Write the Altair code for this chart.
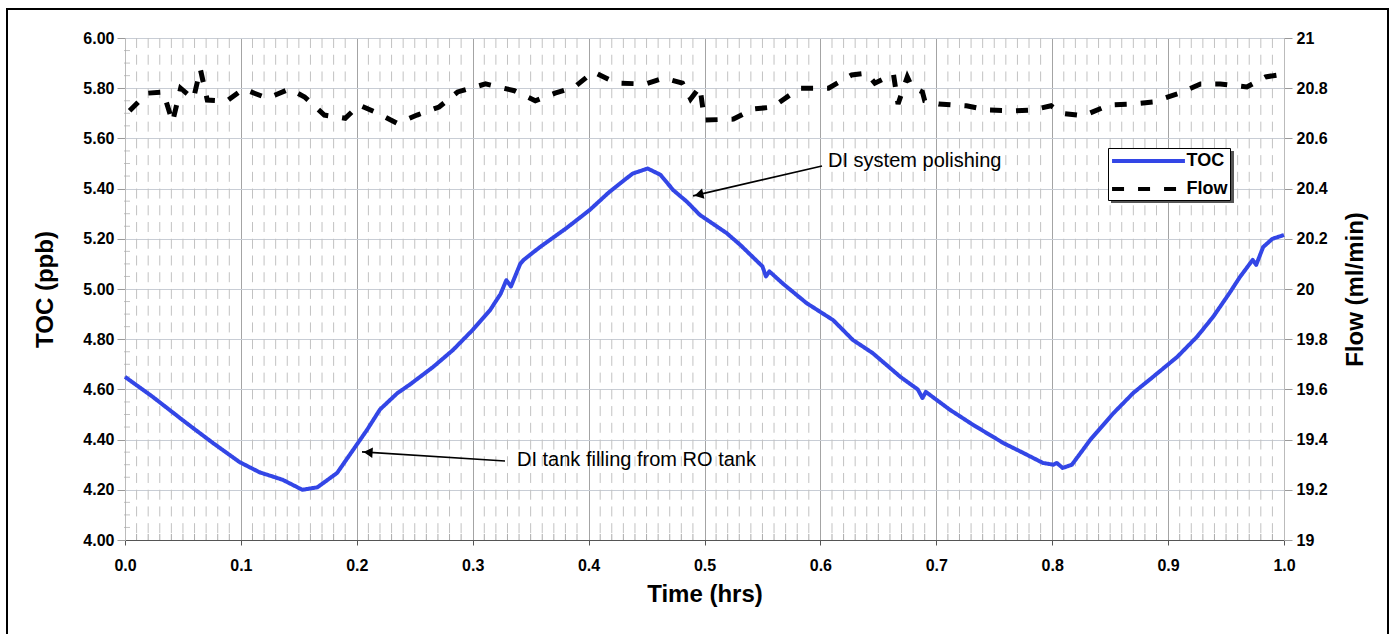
import altair as alt
import pandas as pd

FONT = "Liberation Sans"

# ---- data ----
toc_t = [0.000, 0.024, 0.053, 0.076, 0.099, 0.116, 0.136, 0.153, 0.166, 0.183,
         0.197, 0.209, 0.220, 0.235, 0.246, 0.266, 0.283, 0.300, 0.315, 0.324,
         0.329, 0.333, 0.341, 0.344, 0.358, 0.381, 0.401, 0.418, 0.438, 0.451,
         0.462, 0.473, 0.485, 0.496, 0.519, 0.531, 0.550, 0.553, 0.556, 0.568,
         0.588, 0.611, 0.628, 0.645, 0.669, 0.684, 0.688, 0.691, 0.712, 0.732,
         0.758, 0.775, 0.792, 0.801, 0.804, 0.809, 0.817, 0.833, 0.853, 0.870,
         0.887, 0.908, 0.925, 0.939, 0.953, 0.962, 0.973, 0.976, 0.982, 0.990,
         1.000]
toc_v = [4.65, 4.57, 4.466, 4.386, 4.31, 4.27, 4.24, 4.20, 4.21, 4.267,
         4.36, 4.44, 4.52, 4.585, 4.62, 4.69, 4.757, 4.837, 4.916, 4.98,
         5.035, 5.01, 5.10, 5.116, 5.167, 5.243, 5.315, 5.387, 5.46, 5.48,
         5.455, 5.394, 5.347, 5.295, 5.223, 5.175, 5.09, 5.05, 5.07, 5.02,
         4.944, 4.876, 4.797, 4.745, 4.65, 4.60, 4.566, 4.59, 4.518, 4.458,
         4.386, 4.347, 4.307, 4.30, 4.307, 4.287, 4.30, 4.40, 4.506, 4.586,
         4.65, 4.73, 4.81, 4.89, 4.984, 5.048, 5.116, 5.096, 5.167, 5.20,
         5.215]

flow_t = [0.004, 0.019, 0.033, 0.041, 0.048, 0.059, 0.065, 0.071, 0.088, 0.102,
          0.123, 0.142, 0.155, 0.172, 0.190, 0.202, 0.216, 0.235, 0.252, 0.271,
          0.287, 0.311, 0.336, 0.354, 0.371, 0.388, 0.404, 0.424, 0.449, 0.465,
          0.481, 0.488, 0.496, 0.500, 0.525, 0.542, 0.559, 0.582, 0.607, 0.627,
          0.640, 0.647, 0.663, 0.667, 0.675, 0.679, 0.688, 0.690, 0.702, 0.726,
          0.744, 0.768, 0.783, 0.799, 0.808, 0.827, 0.849, 0.869, 0.887, 0.908,
          0.928, 0.945, 0.968, 0.984, 0.998]
flow_v = [20.71, 20.78, 20.785, 20.665, 20.80, 20.757, 20.876, 20.753, 20.749, 20.797,
          20.76, 20.797, 20.765, 20.693, 20.68, 20.733, 20.705, 20.66, 20.693, 20.725,
          20.785, 20.817, 20.79, 20.75, 20.78, 20.805, 20.865, 20.82, 20.817, 20.84,
          20.82, 20.757, 20.805, 20.673, 20.677, 20.717, 20.725, 20.80, 20.80, 20.853,
          20.86, 20.82, 20.857, 20.737, 20.845, 20.805, 20.785, 20.75, 20.737, 20.73,
          20.713, 20.71, 20.713, 20.73, 20.70, 20.69, 20.733, 20.737, 20.745, 20.777,
          20.817, 20.817, 20.805, 20.845, 20.855]

series_names = ["TOC", "Flow"]
x_ticks = [0.0, 0.1, 0.2, 0.3, 0.4, 0.5, 0.6, 0.7, 0.8, 0.9, 1.0]
toc_ticks = [4.0, 4.2, 4.4, 4.6, 4.8, 5.0, 5.2, 5.4, 5.6, 5.8, 6.0]
flow_ticks = [19.0, 19.2, 19.4, 19.6, 19.8, 20.0, 20.2, 20.4, 20.6, 20.8, 21.0]
minor_x = [round(i * 0.01, 2) for i in range(1, 100) if i % 10 != 0]
minor_y = [round(4.0 + i * 0.05, 2) for i in range(1, 40) if i % 4 != 0]

ann_labels = ["DI system polishing", "DI tank filling from RO tank"]
ann_tail_t = [0.6014, 0.3279]
ann_tail_v = [5.49, 4.315]
ann_head_t = [0.4901, 0.2045]
ann_head_v = [5.371, 4.351]
ann_tip_t = [0.4951, 0.2097]
ann_tip_v = [5.376, 4.349]
ann_angle = [346.9, 3.6]
ann_text_t = [0.6066, 0.3382]
ann_text_v = [5.51, 4.319]

# ---- tables ----
toc_df = pd.DataFrame({"t": toc_t, "v": toc_v, "series": "TOC"})
flow_df = pd.DataFrame({"t": flow_t, "v": flow_v, "series": "Flow"})
minor_x_df = pd.DataFrame({"t": minor_x})
minor_y_df = pd.DataFrame({"v": minor_y})
ann_df = pd.DataFrame({
    "label": ann_labels, "x0": ann_tail_t, "y0": ann_tail_v,
    "x1": ann_head_t, "y1": ann_head_v, "hx": ann_tip_t, "hy": ann_tip_v,
    "ang": ann_angle, "tx": ann_text_t, "ty": ann_text_v,
})
frame_df = pd.DataFrame({"k": [0]})

W, H = 1159, 502

x_scale = alt.Scale(domain=[0, 1], nice=False, zero=False)
toc_scale = alt.Scale(domain=[4, 6], nice=False, zero=False)
flow_scale = alt.Scale(domain=[19, 21], nice=False, zero=False)

legend = alt.Legend(
    title=None, orient="none", legendX=983, legendY=110,
    symbolType="M-4.05,0H4.05", symbolSize=324, symbolStrokeWidth=4,
    symbolOffset=27.5, labelOffset=27, labelFont=FONT, labelFontWeight="bold",
    labelFontSize=18, labelColor="black", padding=2, rowPadding=8,
    strokeColor="black", fillColor="white",
    labelExpr="datum.label + '\u00a0'",
)
color = alt.Color("series:N", scale=alt.Scale(domain=series_names, range=["#3346e6", "#000000"]),
                  legend=legend)
dash = alt.StrokeDash("series:N", scale=alt.Scale(domain=series_names, range=[[1, 0], [12, 14]]),
                      legend=legend)

x_axis = alt.Axis(
    orient="bottom", values=x_ticks, format=".1f", grid=True, gridColor="#a4a4a4", gridWidth=1,
    domainColor="#555555", tickColor="#555555", tickSize=5, labelPadding=12, labelFlush=False,
    labelFont=FONT, labelFontSize=16, labelFontWeight="bold", labelColor="black",
    title="Time (hrs)", titleFont=FONT, titleFontSize=24, titleFontWeight="bold",
    titleColor="black", titlePadding=9,
)
toc_axis = alt.Axis(
    orient="left", values=toc_ticks, format=".2f", grid=True, gridColor="#c8cdd5", gridWidth=1,
    domainColor="#bbbbbb", tickColor="#999999", tickSize=8, labelPadding=3, labelFlush=False,
    labelFont=FONT, labelFontSize=16, labelFontWeight="bold", labelColor="black",
    title="TOC (ppb)", titleFont=FONT, titleFontSize=24, titleFontWeight="bold",
    titleColor="black", titlePadding=25,
)
flow_axis = alt.Axis(
    orient="right", values=flow_ticks, format="~g", grid=False, labelFlush=False,
    domainColor="#bbbbbb", tickColor="#999999", tickSize=8, labelPadding=4,
    labelFont=FONT, labelFontSize=16, labelFontWeight="bold", labelColor="black",
    title="Flow (ml/min)", titleFont=FONT, titleFontSize=24, titleFontWeight="bold",
    titleColor="black", titlePadding=40, titleAngle=270,
)

X = lambda f: alt.X(f, scale=x_scale, axis=x_axis)
YT = lambda f: alt.Y(f, scale=toc_scale, axis=toc_axis)

frame = alt.Chart(frame_df).mark_rect(filled=False, stroke="black", strokeWidth=2).encode(
    x=alt.value(-118), x2=alt.value(1263), y=alt.value(-29), y2=alt.value(620)
)
legend_shadow = alt.Chart(frame_df).mark_rect(color="#555555").encode(
    x=alt.value(986), x2=alt.value(1109), y=alt.value(113), y2=alt.value(165)
)
grid_minor = alt.Chart(minor_x_df).mark_rule(color="#c2c2c2", strokeWidth=1, strokeDash=[10, 6.73]).encode(
    x=X("t:Q")
)
ticks_bottom = alt.Chart(minor_x_df).mark_tick(orient="vertical", color="#888888", size=6, thickness=1).encode(
    x=X("t:Q"), y=alt.value(H - 3)
)
ticks_left = alt.Chart(minor_y_df).mark_tick(orient="horizontal", color="#aaaaaa", size=6, thickness=1).encode(
    y=YT("v:Q"), x=alt.value(2)
)
toc_line = alt.Chart(toc_df).mark_line(strokeWidth=4, strokeJoin="round").encode(
    x=X("t:Q"), y=YT("v:Q"), color=color, strokeDash=dash,
)
arrows = alt.Chart(ann_df).mark_rule(color="black", strokeWidth=1.6).encode(
    x=X("x0:Q"), y=YT("y0:Q"), x2="x1:Q", y2="y1:Q",
)
heads = alt.Chart(ann_df).mark_point(shape="triangle-left", filled=True, size=110, color="black", opacity=1).encode(
    x=X("hx:Q"), y=YT("hy:Q"), angle=alt.Angle("ang:Q", scale=None),
)
texts = alt.Chart(ann_df).mark_text(align="left", baseline="middle", font=FONT, fontSize=20, color="black").encode(
    x=X("tx:Q"), y=YT("ty:Q"), text="label:N",
)
flow_line = alt.Chart(flow_df).mark_line(strokeWidth=5, strokeCap="butt").encode(
    x=X("t:Q"),
    y=alt.Y("v:Q", scale=flow_scale, axis=flow_axis),
    color=color, strokeDash=dash,
)

inner = alt.layer(grid_minor, ticks_bottom, ticks_left, legend_shadow, toc_line, arrows, heads, texts, frame)
chart = alt.layer(inner, flow_line).resolve_scale(y="independent").properties(
    width=W, height=H,
    autosize=alt.AutoSizeParams(type="none"),
    padding={"left": 125, "top": 38, "right": 106, "bottom": 94},
    background="white",
).configure_view(stroke="transparent")

chart.save("out.html", embed_options={"renderer": "svg", "actions": False})
